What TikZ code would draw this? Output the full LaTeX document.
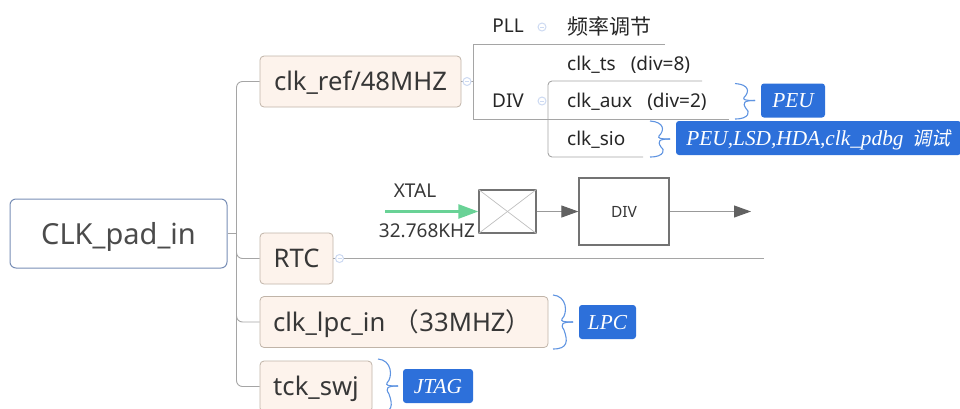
\documentclass[tikz,border=0pt]{standalone}
\usepackage{fontspec}
\setsansfont{Noto Sans}
\setmainfont{Liberation Serif}
\newfontfamily\cjkfont{Noto Sans CJK SC}
\newfontfamily\cjkslant[FakeSlant=0.2]{Noto Sans CJK SC}
\usetikzlibrary{arrows.meta}
\definecolor{linegray}{RGB}{165,165,165}
\definecolor{boxfill}{RGB}{253,243,236}
\definecolor{boxedge}{RGB}{192,180,168}
\definecolor{rootedge}{RGB}{120,142,182}
\definecolor{tagblue}{RGB}{45,112,218}
\definecolor{bracecol}{RGB}{95,148,225}
\definecolor{foldcol}{RGB}{205,218,242}
\definecolor{inkgray}{RGB}{55,55,55}
\definecolor{xtalgreen}{RGB}{105,210,150}
\tikzset{
  rootbox/.style={draw=rootedge, fill=white, rounded corners=6, line width=1pt, minimum width=217, minimum height=69, inner sep=0, text height=21pt, text depth=0pt, font=\sffamily\fontsize{29}{29}\selectfont, text=inkgray!90},
  branchbox/.style={draw=boxedge, fill=boxfill, rounded corners=4, line width=0.8pt, minimum height=51, inner sep=0, text height=18.5pt, text depth=0pt, font=\sffamily\fontsize{25.6}{25.6}\selectfont, text=inkgray},
  leaf/.style={inner sep=0, text height=13.7pt, text depth=0pt, font=\sffamily\fontsize{19}{19}\selectfont, text=black!85},
  note/.style={inner sep=0, text height=13.7pt, text depth=0pt, font=\sffamily\fontsize{19}{19}\selectfont, text=inkgray},
  tagbox/.style={fill=tagblue, rounded corners=3, inner sep=0, minimum height=34, text height=14pt, text depth=0pt, text=white, font=\rmfamily\itshape\fontsize{21.3}{21.3}\selectfont},
  linkline/.style={draw=linegray, line width=0.9pt},
  fold/.style={draw=foldcol, fill=white, line width=1pt},
  blockbox/.style={draw=black!55, line width=1.3pt, inner sep=0},
  sig/.style={draw=black!40, line width=1pt, -{Triangle[length=17pt,width=12pt,color=black!62]}},
  brc/.style={draw=bracecol, line width=1.1pt}
}
% curly bracket in front of a tag: left end, top, tip level, bottom
\newcommand{\tagbrace}[4]{
\draw [brc] (#1,#2) .. controls (#1+14,#2+1) and (#1+15,#3-9) .. (#1+9,#3-3) .. controls (#1+8,#3-1) and (#1+9,#3) .. (#1+20,#3);
\draw [brc] (#1+20,#3) .. controls (#1+9,#3) and (#1+7,#3+2) .. (#1+11,#3+8) .. controls (#1+15,#4-8) and (#1+15,#4) .. (#1,#4);
}
\begin{document}
\begin{tikzpicture}[x=1pt, y=-1pt]
\useasboundingbox (0,0) rectangle (960,408);
% left trunk
\node (root) at (118.5,233.5) [rootbox] {CLK\_pad\_in};
\node (ref) at (360.5,81.5) [branchbox, minimum width=201] {clk\_ref/48MHZ};
\node (rtc) at (296.5,258.5) [branchbox, minimum width=73] {RTC};
\node (lpc) at (404,322) [branchbox, minimum width=288, text width=262, align=left] {clk\_lpc\_in {\cjkfont（}33MHZ{\cjkfont）}};
\node (swj) at (316,386.5) [branchbox, minimum width=112] {tck\_swj};
\coordinate (trunk) at (236.5,233.5);
\draw [linkline] (root.east) -- (trunk);
\foreach \n in {ref,rtc,lpc,swj}
  \draw [linkline, rounded corners=6] (trunk) |- (\n.west);
% clk_ref children
\coordinate (reffold) at (473,81.5);
\coordinate (plltop) at (665,44);
\coordinate (divbot) at (729,119);
\draw [linkline] (ref.east) -- (reffold);
\draw [linkline] (plltop) -- (473,44) -- (473,119) -- (divbot);
\node (pll) at (508,26) [leaf] {PLL};
\node (freq) at (567,28) [leaf, anchor=west] {\cjkfont\fontsize{21}{21}\selectfont 频率调节};
\node (div) at (508,101) [leaf] {DIV};
\node (ts) at (567,64) [leaf, anchor=west] {clk\_ts\hspace{15pt}(div=8)};
\node (aux) at (567,101) [leaf, anchor=west] {clk\_aux\hspace{15pt}(div=2)};
\node (sio) at (567,139) [leaf, anchor=west] {clk\_sio};
\coordinate (auxtop) at (702,81);
\coordinate (siobot) at (643,157);
\draw [linkline, rounded corners=4] (auxtop) -- (548,81) -- (548,157) -- (siobot);
% rtc line
\coordinate (rtcend) at (764,258.5);
\draw [linkline] (rtc.east) -- (rtcend);
% fold marks
\foreach \x/\y in {467/81.5, 542/27, 542/101, 339.5/258.5} {
  \draw [fold] (\x,\y) circle (4);
  \draw [draw=foldcol, line width=0.8pt] (\x-2,\y) -- (\x+2,\y);
}
% crystal and divider
\node (xtal) at (507.5,211.5) [blockbox, minimum width=57, minimum height=43] {};
\node (divbox) at (624,211.5) [blockbox, minimum width=90, minimum height=67, font=\sffamily\fontsize{15.5}{15.5}\selectfont, text=inkgray] {DIV};
\draw [draw=black!25, line width=0.7pt] (xtal.north west) -- (xtal.south east);
\draw [draw=black!25, line width=0.7pt] (xtal.south west) -- (xtal.north east);
\coordinate (xin) at (385,211.5);
\coordinate (xout) at (751,211.5);
\draw [draw=xtalgreen, line width=2.6pt, -{Triangle[length=20pt,width=14pt]}] (xin) -- (xtal.west);
\draw [sig] (xtal.east) -- (divbox.west);
\draw [sig] (divbox.east) -- (xout);
\node (xname) at (415,191) [note] {XTAL};
\node (xfreq) at (427,231) [note] {32.768KHZ};
% tags
\tagbrace{735}{83.5}{100.5}{119}
\tagbrace{650}{121}{139}{157}
\tagbrace{553}{295}{322}{349}
\tagbrace{378}{359}{386}{413}
\node (peu) at (793,100.5) [tagbox, minimum width=64] {PEU};
\node (dbg) at (818.5,138) [tagbox, minimum width=285] {PEU,LSD,HDA,clk\_pdbg\hspace{9pt}{\cjkslant\fontsize{19}{19}\selectfont 调试}};
\node (lpctag) at (607.5,322) [tagbox, minimum width=57] {LPC};
\node (jtag) at (438,386) [tagbox, minimum width=70] {JTAG};
\end{tikzpicture}
\end{document}
